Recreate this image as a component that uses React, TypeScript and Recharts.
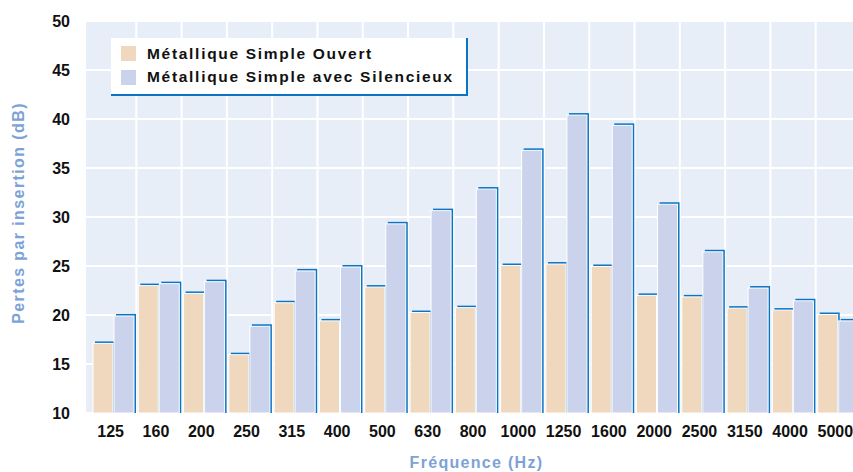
import React from 'react';
import { BarChart, Bar, XAxis, YAxis, CartesianGrid } from 'recharts';

const frequencies = ['125', '160', '200', '250', '315', '400', '500', '630', '800', '1000', '1250', '1600', '2000', '2500', '3150', '4000', '5000'];
const ouvert = [17.1, 23.0, 22.2, 15.95, 21.25, 19.4, 22.85, 20.25, 20.75, 25.05, 25.2, 24.95, 22.0, 21.85, 20.7, 20.5, 20.05];
const silencieux = [19.9, 23.2, 23.4, 18.85, 24.5, 24.9, 29.3, 30.65, 32.85, 36.8, 40.4, 39.35, 31.3, 26.45, 22.75, 21.45, 19.4];
const yTicks = [10, 15, 20, 25, 30, 35, 40, 45, 50];
const seriesNames = ['Métallique Simple Ouvert', 'Métallique Simple avec Silencieux'];

const data = frequencies.map((f, i) => ({ freq: f, ouvert: ouvert[i], silencieux: silencieux[i] }));

const BEIGE = '#EFD8BD';
const LAVENDER = '#CAD3EB';
const SHADOW = '#0B74C4';
const TITLE = '#7DA2D6';
const FONT = '"Liberation Sans", Arial, sans-serif';
const NARROW = '"Liberation Sans Narrow", "Liberation Sans", Arial, sans-serif';
const X_PAD = 5;

const ShadowBar = (props: any) => {
  const { x, y, width, height, fill } = props;
  if (!height || height <= 0) return null;
  return (
    <g>
      <rect x={x + 2} y={y - 2} width={width} height={height + 2} fill={SHADOW} />
      <rect x={x} y={y} width={width} height={height} fill={fill} stroke="#fff" strokeWidth={1} />
    </g>
  );
};

const LegendBox = () => (
  <div
    style={{
      position: 'absolute', left: 111, top: 38, width: 355, height: 56, background: '#fff',
      borderRight: `2px solid ${SHADOW}`, borderBottom: `2px solid ${SHADOW}`, fontFamily: FONT,
    }}
  >
    {seriesNames.map((name, i) => (
      <div key={name} style={{ position: 'absolute', left: 10, top: 8 + i * 23.5, display: 'flex', alignItems: 'center', height: 15 }}>
        <span style={{ width: 15, height: 15, background: i === 0 ? BEIGE : LAVENDER, marginRight: 11, display: 'inline-block' }} />
        <span style={{ fontSize: 15.5, fontWeight: 'bold', letterSpacing: 1.7, color: '#111', whiteSpace: 'nowrap' }}>{name}</span>
      </div>
    ))}
  </div>
);

// grid lines sit between the frequency bands, not on the ticks
const verticalBounds = ({ offset }: any) => {
  if (!offset) return [];
  const bw = (offset.width - X_PAD) / frequencies.length;
  return frequencies.slice(1).map((_, i) => offset.left + X_PAD + (i + 1) * bw);
};

export default function App() {
  return (
    <div style={{ position: 'fixed', left: 0, top: 0, width: 853, height: 472, overflow: 'hidden', background: '#fff' }}>
      <BarChart width={861} height={472} data={data} margin={{ top: 21, right: 0, left: 0, bottom: 0 }} barGap={1} barSize={20}>
        <CartesianGrid fill="#E8EEF8" stroke="#fff" strokeWidth={2} verticalCoordinatesGenerator={verticalBounds} />
        <XAxis
          dataKey="freq"
          height={59}
          padding={{ left: X_PAD, right: 0 }}
          axisLine={false}
          tickLine={false}
          tickSize={0}
          tickMargin={13}
          interval={0}
          tick={{ fontSize: 16, fontWeight: 'bold', fill: '#111', fontFamily: NARROW, dx: -3 }}
          label={{
            content: ({ viewBox }: any) => (
              <text x={viewBox.x + viewBox.width / 2 + 3} y={468} textAnchor="middle" fill={TITLE} fontSize={16} fontWeight="bold" letterSpacing={1.3} fontFamily={FONT}>
                Fréquence (Hz)
              </text>
            ),
          }}
        />
        <YAxis
          width={86}
          domain={[10, 50]}
          ticks={yTicks}
          axisLine={false}
          tickLine={false}
          tickSize={0}
          tickMargin={16}
          tick={{ fontSize: 16, fontWeight: 'bold', fill: '#111', fontFamily: NARROW }}
          label={{
            content: () => (
              <text x={24} y={213} transform="rotate(-90 24 213)" textAnchor="middle" fill={TITLE} fontSize={16} fontWeight="bold" letterSpacing={1.4} fontFamily={FONT}>
                Pertes par insertion (dB)
              </text>
            ),
          }}
        />
        <Bar dataKey="ouvert" name={seriesNames[0]} fill={BEIGE} shape={<ShadowBar />} isAnimationActive={false} />
        <Bar dataKey="silencieux" name={seriesNames[1]} fill={LAVENDER} shape={<ShadowBar />} isAnimationActive={false} />
      </BarChart>
      <LegendBox />
    </div>
  );
}
